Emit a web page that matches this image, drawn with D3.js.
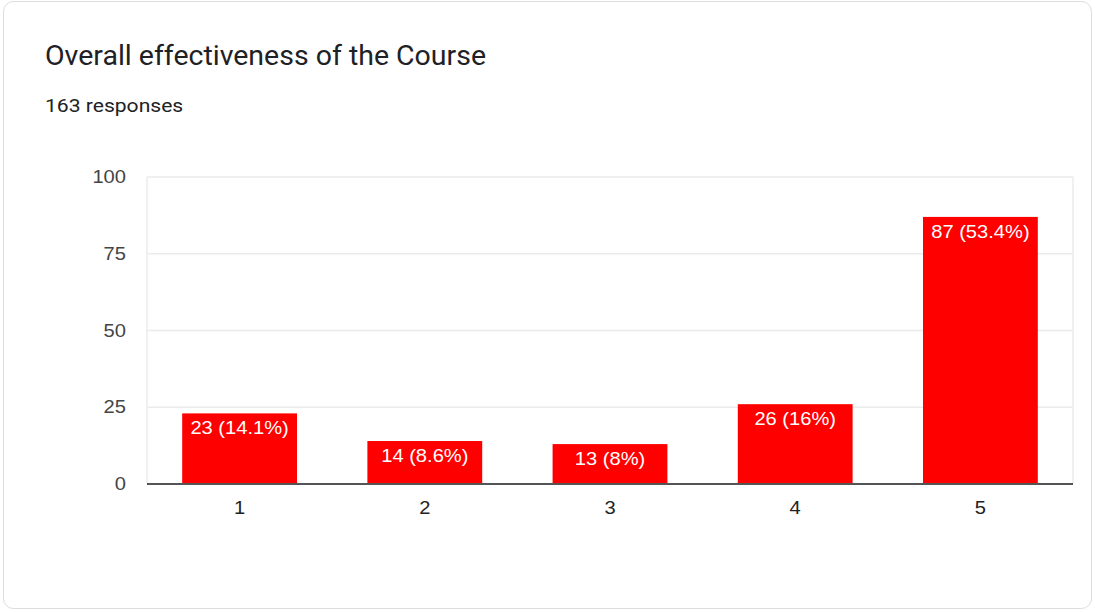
<!DOCTYPE html>
<html>
<head>
<meta charset="utf-8">
<script src="https://cdn.jsdelivr.net/npm/d3@7"></script>
<style>
  body { margin: 0; background: #fff; }
  svg { display: block; }
</style>
</head>
<body>
<div id="chart"></div>
<script>
const title = "Overall effectiveness of the Course";
const subtitle = "163 responses";
const categories = ["1", "2", "3", "4", "5"];
const counts = [23, 14, 13, 26, 87];
const percents = ["14.1%", "8.6%", "8%", "16%", "53.4%"];
const yTicks = [0, 25, 50, 75, 100];

const width = 1095, height = 612;
const sx = 1.15; // reference looks stretched horizontally

const svg = d3.select("#chart").append("svg")
    .attr("width", width)
    .attr("height", height);

svg.append("rect")
    .attr("x", 3.5).attr("y", 1.5)
    .attr("width", 1088).attr("height", 607)
    .attr("rx", 10)
    .attr("fill", "#fff")
    .attr("stroke", "#dadce0");

svg.append("text")
    .attr("transform", "translate(45,65) scale(1.055,1)")
    .attr("font-family", "Roboto, sans-serif")
    .attr("font-size", 27)
    .attr("fill", "#202124")
    .text(title);

svg.append("text")
    .attr("transform", "translate(45,112) scale(1.11,1)")
    .attr("font-family", "Roboto, sans-serif")
    .attr("font-size", 19)
    .attr("fill", "#202124")
    .text(subtitle);

const x = d3.scaleBand()
    .domain(categories)
    .range([147, 1073])
    .paddingInner(0.38)
    .paddingOuter(0.19);

const y = d3.scaleLinear()
    .domain([0, 100])
    .range([484, 177]);

const font = "Arial, 'Liberation Sans', sans-serif";

// gridlines
const grid = svg.append("g");
grid.selectAll("line.h")
    .data(yTicks.filter(d => d > 0))
    .join("line")
    .attr("x1", 147).attr("x2", 1073)
    .attr("y1", d => y(d)).attr("y2", d => y(d))
    .attr("stroke", "#ebebeb")
    .attr("stroke-width", 1.5);
grid.selectAll("line.v")
    .data([147, 1073])
    .join("line")
    .attr("x1", d => d).attr("x2", d => d)
    .attr("y1", y(100)).attr("y2", y(0))
    .attr("stroke", "#ebebeb")
    .attr("stroke-width", 1.5);

// y tick labels
svg.append("g").selectAll("text")
    .data(yTicks)
    .join("text")
    .attr("transform", d => `translate(126,${y(d) + 6}) scale(${sx},1)`)
    .attr("text-anchor", "end")
    .attr("font-family", font)
    .attr("font-size", 17.5)
    .attr("fill", "#444")
    .text(d => d);

// bars
const bars = svg.append("g").selectAll("g")
    .data(categories)
    .join("g");

bars.append("rect")
    .attr("x", d => x(d))
    .attr("y", (d, i) => y(counts[i]))
    .attr("width", x.bandwidth())
    .attr("height", (d, i) => y(0) - y(counts[i]))
    .attr("fill", "#ff0000");

bars.append("text")
    .attr("transform", (d, i) => `translate(${x(d) + x.bandwidth() / 2},${y(counts[i]) + 21}) scale(${sx},1)`)
    .attr("text-anchor", "middle")
    .attr("font-family", font)
    .attr("font-size", 17.5)
    .attr("fill", "#fff")
    .text((d, i) => `${counts[i]} (${percents[i]})`);

// baseline
svg.append("line")
    .attr("x1", 147).attr("x2", 1073)
    .attr("y1", y(0)).attr("y2", y(0))
    .attr("stroke", "#555")
    .attr("stroke-width", 2);

// x labels
svg.append("g").selectAll("text")
    .data(categories)
    .join("text")
    .attr("transform", d => `translate(${x(d) + x.bandwidth() / 2},514) scale(${sx},1)`)
    .attr("text-anchor", "middle")
    .attr("font-family", font)
    .attr("font-size", 17.5)
    .attr("fill", "#222")
    .text(d => d);
</script>
</body>
</html>
